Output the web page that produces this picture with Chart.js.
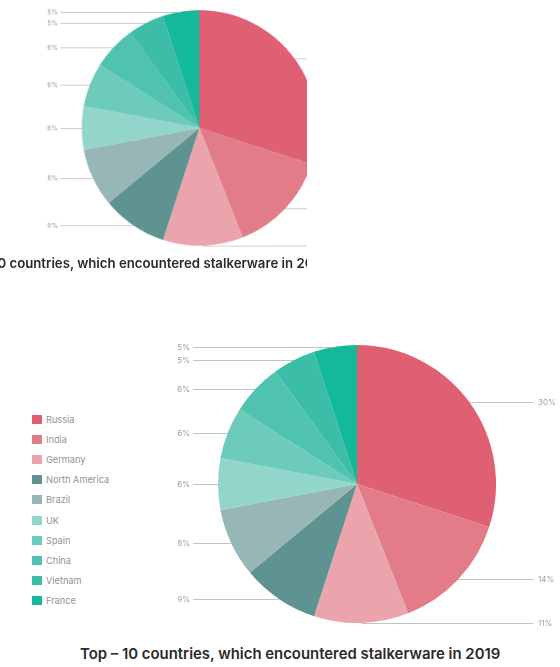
<!DOCTYPE html>
<html>
<head>
<meta charset="utf-8">
<script src="https://cdn.jsdelivr.net/npm/chart.js@4.4.1/dist/chart.umd.min.js"></script>
<style>
  body { margin: 0; background: #fff; width: 560px; height: 667px; overflow: hidden; position: relative; font-family: Inter, 'Noto Sans', sans-serif; }
  .fig { position: absolute; left: 0; width: 560px; height: 347px; }
  .fig canvas { position: absolute; left: 150px; top: 0; }
  .legend { position: absolute; left: 32px; top: 89px; }
  .legend div { height: 20.2px; display: flex; align-items: center; font-size: 9.2px; color: #929292; }
  .legend span { display: inline-block; width: 10px; height: 9px; margin-right: 4px; }
  .caption { position: absolute; white-space: nowrap; font-weight: 600; color: #2a2a2a; }
  #clip { position: absolute; left: 0; top: 0; width: 307px; height: 290px; overflow: hidden; }
  #top { transform-origin: 0 0; transform: translate(-103px, -11px) scale(0.847); }
  #bottom { top: 320px; }
</style>
</head>
<body>
<div id="clip"><div class="fig" id="top"></div></div>
<div class="fig" id="bottom"></div>
<script>
const countries = ['Russia', 'India', 'Germany', 'North America', 'Brazil', 'UK', 'Spain', 'China', 'Vietnam', 'France'];
const shares = [30, 14, 11, 9, 8, 6, 6, 6, 5, 5];
const sliceColors = ['#df5f73', '#e27c89', '#eba4ac', '#5f9392', '#96b7b6', '#92d5ca', '#6ccbbb', '#50c3b0', '#3cbda8', '#14b89b'];
const captionText = 'Top – 10 countries, which encountered stalkerware in 2019';

// percent labels on horizontal leader lines
const leaderLabels = {
  id: 'leaderLabels',
  afterDatasetsDraw(chart) {
    const ctx = chart.ctx;
    const meta = chart.getDatasetMeta(0);
    ctx.save();
    ctx.font = '8px Inter, sans-serif';
    ctx.textBaseline = 'middle';
    ctx.lineWidth = 1;
    meta.data.forEach((arc, i) => {
      const p = arc.getProps(['x', 'y', 'startAngle', 'endAngle', 'outerRadius'], true);
      const mid = (p.startAngle + p.endAngle) / 2;
      const ex = p.x + Math.cos(mid) * p.outerRadius;
      const ey = Math.round(p.y + Math.sin(mid) * p.outerRadius) + 0.5;
      const right = ex > p.x;
      ctx.strokeStyle = 'rgba(170,170,170,0.7)';
      ctx.beginPath();
      if (right) { ctx.moveTo(ex, ey); ctx.lineTo(383, ey); }
      else { ctx.moveTo(43, ey); ctx.lineTo(ex, ey); }
      ctx.stroke();
      ctx.fillStyle = '#a0a0a0';
      ctx.textAlign = right ? 'left' : 'right';
      ctx.fillText(shares[i] + '%', right ? 388 : 40, ey);
    });
    ctx.restore();
  }
};

function buildFigure(el, capTop, capLeft, capSize) {
  const canvas = document.createElement('canvas');
  canvas.width = 410;
  canvas.height = 320;
  el.appendChild(canvas);

  const legend = document.createElement('div');
  legend.className = 'legend';
  countries.forEach((c, i) => {
    const row = document.createElement('div');
    row.innerHTML = '<span style="background:' + sliceColors[i] + '"></span>' + c;
    legend.appendChild(row);
  });
  el.appendChild(legend);

  const cap = document.createElement('div');
  cap.className = 'caption';
  cap.style.top = capTop + 'px';
  cap.style.left = capLeft + 'px';
  cap.style.fontSize = capSize + 'px';
  cap.textContent = captionText;
  el.appendChild(cap);

  return new Chart(canvas.getContext('2d'), {
    type: 'pie',
    data: {
      labels: countries,
      datasets: [{ data: shares, backgroundColor: sliceColors, borderWidth: 0 }]
    },
    options: {
      responsive: false,
      animation: false,
      events: [],
      layout: { padding: { left: 68, right: 64, top: 25, bottom: 17 } },
      plugins: { legend: { display: false }, tooltip: { enabled: false } }
    },
    plugins: [leaderLabels]
  });
}

buildFigure(document.getElementById('top'), 314, 68, 15.6);
buildFigure(document.getElementById('bottom'), 325, 80, 14.9);
</script>
</body>
</html>
